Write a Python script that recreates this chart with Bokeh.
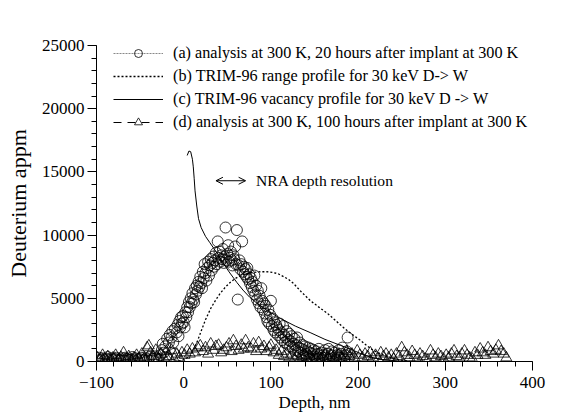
import math
from bokeh.plotting import figure
from bokeh.models import (Legend, LegendItem, SingleIntervalTicker, Label, Arrow, OpenHead,
                          Range1d)
from bokeh.embed import file_html
from bokeh.resources import INLINE

# ---------------- data ----------------
# (a) analysis at 300 K, 20 hours after implant (circles)
a_depth = [-99, -97, -95, -93, -91, -89, -87, -85, -83, -81, -79, -77, -75, -73, -71, -69, -67, -65,
           -63, -61, -59, -57, -55, -53, -51, -49, -47, -45, -43, -41, -39, -37, -35, -33, -31, -29,
           -27, -25, -24, -23, -21, -20, -19, -17, -16, -14, -13, -12, -11, -10, -8, -7, -6, -5, -4,
           -3, -2, -1, 0, 1, 2, 3, 4, 5, 6, 7, 8, 9, 10, 11, 12, 13, 14, 15, 16, 17, 18, 19, 20, 21,
           22, 23, 24, 25, 26, 27, 28, 29, 30, 31, 32, 33, 34, 35, 36, 37, 38, 39, 40, 41, 42, 43,
           44, 45, 46, 47, 48, 49, 50, 51, 52, 53, 54, 55, 56, 57, 58, 59, 60, 61, 62, 63, 64, 65,
           66, 67, 68, 69, 70, 71, 72, 73, 74, 75, 76, 77, 78, 79, 80, 81, 82, 83, 84, 85, 86, 87,
           88, 89, 90, 91, 92, 93, 94, 95, 96, 97, 98, 99, 100, 101, 102, 103, 104, 105, 106, 107,
           108, 109, 110, 111, 112, 113, 114, 115, 116, 117, 118, 119, 120, 121, 122, 123, 124, 125,
           126, 127, 128, 129, 130, 131, 132, 133, 134, 135, 136, 137, 138, 139, 140, 141, 142, 143,
           144, 145, 146, 147, 148, 149, 150, 152, 153, 154, 155, 156, 158, 159, 160, 162, 163, 165,
           166, 167, 169, 170, 172, 173, 175, 176, 178, 179, 181, 182, 184, 185, 187, 188, 189, 190]
a_value = [150, 300, 120, 250, 100, 200, 350, 100, 250, 120, 200, 300, 150, 100, 250, 100, 300, 200,
           100, 150, 350, 100, 250, 100, 200, 300, 100, 120, 250, 150, 350, 100, 200, 400, 250, 150,
           500, 900, 1400, 700, 1200, 300, 1800, 1500, 2100, 1900, 2400, 1500, 600, 2600, 2300, 2900,
           2000, 3200, 2700, 3500, 3000, 3600, 3100, 2700, 3900, 3500, 4300, 3900, 4700, 4300, 5000,
           4600, 5400, 4900, 4700, 5800, 5300, 6000, 5600, 6300, 5900, 6700, 6200, 5800, 7100, 6600,
           7700, 7000, 6400, 7400, 7900, 6800, 7600, 8100, 7200, 7800, 8300, 7500, 8000, 8600, 7700,
           9500, 8200, 8700, 7900, 8400, 8100, 8900, 7800, 8300, 10600, 8000, 8500, 9200, 7900, 8200,
           8700, 8000, 7600, 8400, 8100, 9100, 7700, 10400, 4900, 7600, 8000, 7300, 7700, 9500, 7100,
           7500, 6900, 7300, 6700, 7400, 6500, 6900, 6200, 6600, 5900, 6300, 5600, 6800, 5300, 6000,
           4900, 5600, 4600, 5200, 4300, 5800, 4800, 4100, 4600, 3800, 4400, 3500, 3200, 4100, 3000,
           3700, 4800, 2800, 3400, 2500, 3100, 2300, 2900, 2700, 2100, 2500, 3000, 1900, 2300, 1700,
           2800, 2100, 1500, 1900, 2400, 1400, 1700, 2200, 1200, 1600, 2000, 1100, 1400, 1800, 900,
           1300, 1900, 800, 1100, 1500, 700, 1000, 1300, 500, 900, 1200, 600, 300, 800, 1100, 400,
           700, 1000, 200, 600, 900, 400, 800, 200, 600, 1000, 300, 700, 150, 500, 900, 300, 600,
           1000, 200, 500, 800, 300, 700, 150, 500, 900, 300, 600, 1100, 200, 500, 800, 1900, 300, 600]

# (b) TRIM-96 range profile for 30 keV D -> W (dotted)
b_depth = [-15, -5, 0, 4, 8, 12, 16, 20, 25, 31, 37, 42, 48, 54, 60, 67, 74, 80, 88, 95, 102, 108,
           115, 120, 126, 135, 145, 155, 165, 174, 183, 193, 203, 210, 217, 226, 233, 241, 250, 260]
b_value = [0, 50, 150, 300, 470, 1000, 1660, 2400, 3300, 4200, 4900, 5400, 5900, 6300, 6600, 6850,
           7000, 7050, 7100, 7100, 7050, 6950, 6700, 6500, 6170, 5500, 4830, 4300, 3800, 3250, 2700,
           2150, 1660, 1250, 900, 600, 400, 250, 100, 0]

# (c) TRIM-96 vacancy profile for 30 keV D -> W (solid)
c_depth = [4, 6, 8, 10, 11, 12, 13, 15, 17, 20, 25, 30, 35, 40, 46, 53, 61, 68, 76, 86, 96, 111,
           128, 145, 162, 180, 192, 203, 214, 228, 245, 265]
c_value = [16300, 16650, 16600, 16000, 15400, 14500, 13500, 12300, 11300, 10600, 9900, 9400, 8900,
           8400, 7700, 7000, 6250, 5650, 5060, 4500, 4030, 3400, 2800, 2290, 1750, 1270, 950, 630,
           350, 150, 50, 0]

# (d) analysis at 300 K, 100 hours after implant (triangles)
d_depth = [-99, -96, -93, -90, -87, -84, -81, -78, -75, -72, -69, -66, -63, -60, -57, -54, -51, -48,
           -45, -42, -40, -38, -35, -32, -29, -26, -23, -20, -17, -14, -11, -8, -5, -2, 1, 4, 7, 10,
           13, 16, 19, 22, 25, 28, 31, 34, 37, 40, 43, 46, 49, 52, 55, 57, 60, 63, 66, 69, 71, 74,
           77, 80, 83, 86, 89, 92, 95, 98, 100, 103, 106, 109, 112, 115, 118, 121, 124, 127, 130,
           133, 136, 139, 142, 145, 148, 151, 154, 157, 160, 163, 166, 169, 172, 175, 178, 181, 184,
           187, 190, 193, 196, 199, 202, 205, 208, 211, 214, 217, 220, 223, 226, 229, 232, 235, 238,
           241, 244, 247, 250, 253, 256, 259, 262, 265, 268, 271, 274, 277, 280, 283, 286, 289, 292,
           295, 298, 301, 304, 307, 310, 313, 316, 319, 322, 325, 328, 331, 334, 337, 340, 343, 346,
           349, 352, 355, 358, 361, 364, 367, 370]
d_value = [300, 150, 500, 200, 400, 150, 300, 500, 150, 350, 700, 200, 400, 150, 300, 500, 200, 600,
           300, 1100, 1250, 700, 400, 900, 200, 600, 300, 800, 400, 900, 200, 600, 300, 700, 500, 900,
           600, 1000, 700, 1100, 1250, 800, 1100, 600, 1400, 900, 1200, 1300, 700, 900, 1100, 1400,
           800, 1650, 1200, 900, 1300, 1000, 1650, 1100, 1000, 1400, 800, 1500, 1000, 1200, 800, 1100,
           1300, 700, 900, 500, 800, 400, 600, 300, 500, 200, 400, 150, 300, 500, 200, 400, 150, 300,
           500, 200, 400, 600, 300, 500, 200, 400, 600, 300, 500, 800, 400, 600, 300, 850, 500, 300,
           600, 400, 700, 300, 500, 200, 700, 400, 600, 300, 500, 200, 600, 400, 1100, 700, 500, 300,
           800, 500, 300, 600, 400, 200, 100, 850, 500, 300, 600, 400, 200, 500, 300, 600, 850, 400,
           300, 600, 850, 500, 300, 200, 700, 500, 1000, 700, 500, 1100, 800, 600, 900, 1250, 800,
           600, 300]

x_ticks_interval = 100
y_ticks_interval = 5000

FONT = "Liberation Serif"

# ---------------- figure ----------------
p = figure(width=565, height=417, output_backend="svg", toolbar_location=None,
           x_range=Range1d(-100, 400), y_range=Range1d(0, 25000),
           min_border_left=96, min_border_right=33, min_border_top=45, min_border_bottom=56,
           x_axis_label="Depth, nm", y_axis_label="Deuterium appm")
p.outline_line_color = None
p.grid.visible = False
p.background_fill_color = "white"
p.border_fill_color = "white"

for ax, tk in ((p.xaxis[0], x_ticks_interval), (p.yaxis[0], y_ticks_interval)):
    ax.ticker = SingleIntervalTicker(interval=tk, num_minor_ticks=5)
    ax.axis_line_color = "black"
    ax.axis_line_width = 1
    ax.major_tick_line_color = "black"
    ax.minor_tick_line_color = "black"
    ax.major_tick_in = 0
    ax.minor_tick_in = 0
    ax.major_tick_out = 9
    ax.minor_tick_out = 5
    ax.major_label_text_font = FONT
    ax.major_label_text_font_size = "17px"
    ax.major_label_text_color = "black"
    ax.axis_label_text_font = FONT
    ax.axis_label_text_font_size = "17px"
    ax.axis_label_text_font_style = "normal"
    ax.axis_label_text_color = "black"
p.xaxis[0].major_label_standoff = 6
p.xaxis[0].axis_label_standoff = 2
p.yaxis[0].major_label_standoff = 3
p.yaxis[0].axis_label_text_font_size = "22px"
p.yaxis[0].axis_label_standoff = 8

# curves
rb = p.line(b_depth, b_value, line_color="black", line_width=1.3, line_dash="2 2")
rc = p.line(c_depth, c_value, line_color="black", line_width=1.0)
# markers
ra = p.scatter(a_depth, a_value, marker="circle", size=11, fill_color=None,
               line_color="black", line_width=0.8)
rd = p.scatter(d_depth, d_value, marker="triangle", size=11, fill_color=None,
               line_color="black", line_width=0.8)

# legend-only line styles
nan = float("nan")
la = p.line([nan], [nan], line_color="#555555", line_width=0.7, line_dash="2 1")
ld = p.line([nan], [nan], line_color="black", line_width=1.0, line_dash="8 6")

legend = Legend(items=[
    LegendItem(label="(a) analysis at 300 K, 20 hours after implant at 300 K", renderers=[la, ra]),
    LegendItem(label="(b) TRIM-96 range profile for 30 keV D-> W", renderers=[rb]),
    LegendItem(label="(c) TRIM-96 vacancy profile for 30 keV D -> W", renderers=[rc]),
    LegendItem(label="(d) analysis at 300 K, 100 hours after implant at 300 K", renderers=[ld, rd]),
], location=(17, 229))
legend.border_line_color = None
legend.background_fill_alpha = 0
legend.margin = 0
legend.padding = 0
legend.spacing = 3
legend.glyph_width = 50
legend.glyph_height = 20
legend.label_height = 20
legend.label_standoff = 10
legend.label_text_font = FONT
legend.label_text_font_size = "16.2px"
legend.label_text_color = "black"
p.add_layout(legend, "center")

# NRA depth resolution annotation
p.add_layout(Arrow(x_start=37, y_start=14300, x_end=71, y_end=14300,
                   start=OpenHead(size=7, line_width=1), end=OpenHead(size=7, line_width=1),
                   line_width=1, line_color="black"))
p.add_layout(Label(x=83, y=14300, text="NRA depth resolution", text_font=FONT,
                   text_font_size="15.6px", text_baseline="middle", text_color="black"))

open("out.html", "w").write(file_html(p, INLINE))
